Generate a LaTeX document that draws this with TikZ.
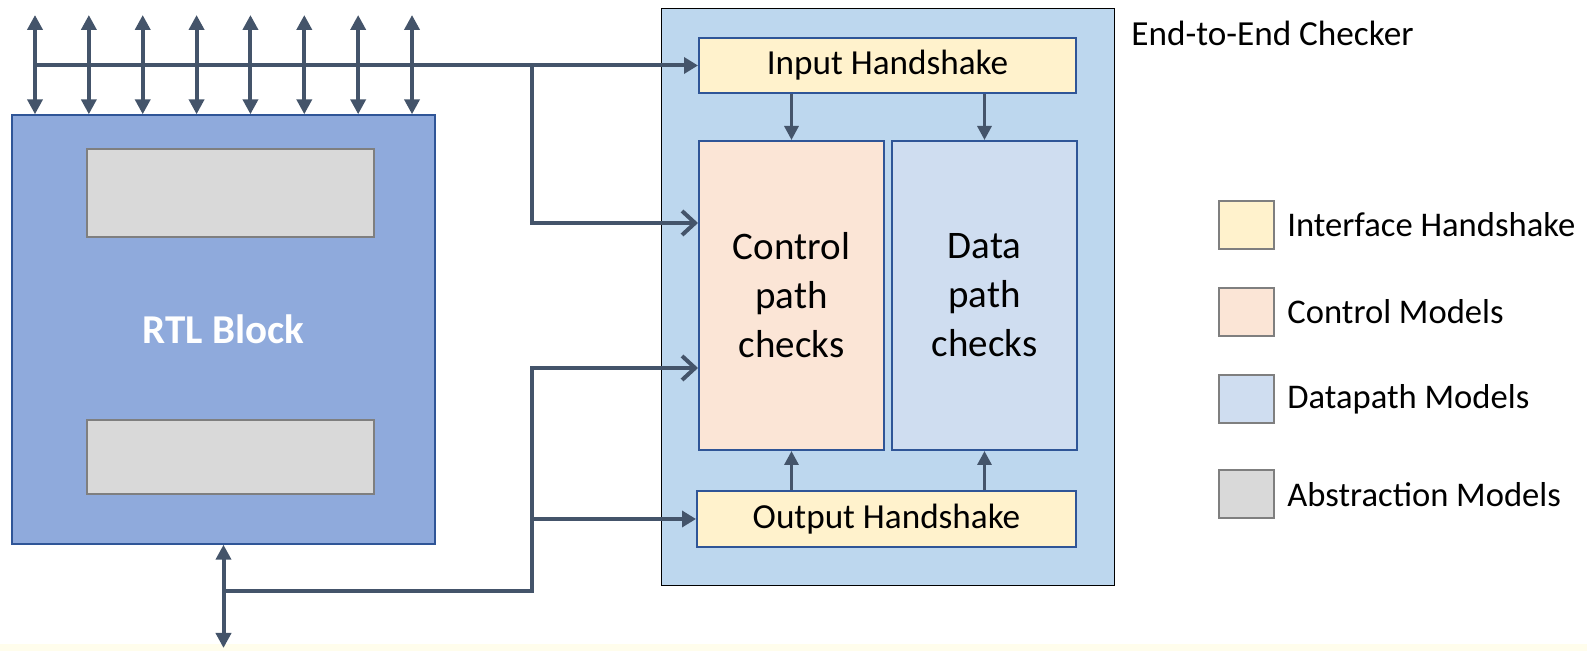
\documentclass[tikz,border=0pt]{standalone}
\usepackage{fontspec}
\setmainfont{Carlito}
\usepackage{tikz}
\usetikzlibrary{arrows.meta, positioning, calc}
\definecolor{rtlblue}{RGB}{143,170,220}
\definecolor{edge}{RGB}{47,85,151}
\definecolor{wire}{RGB}{68,84,106}
\definecolor{absgray}{RGB}{217,217,217}
\definecolor{framegray}{RGB}{127,127,127}
\definecolor{checkblue}{RGB}{189,215,238}
\definecolor{hsyellow}{RGB}{255,242,204}
\definecolor{ctrlpeach}{RGB}{251,229,214}
\definecolor{datablue}{RGB}{207,221,240}
\definecolor{stripyellow}{RGB}{255,253,236}
\tikzset{
    block/.style={rectangle, draw=edge, line width=0.7pt, fill=rtlblue, minimum width=211.5pt, minimum height=214.5pt, text=white, font=\fontsize{20.5}{24}\selectfont\bfseries},
    absmodel/.style={rectangle, draw=framegray, line width=1pt, fill=absgray, minimum width=143.5pt},
    checker/.style={rectangle, draw=black, line width=0.5pt, fill=checkblue, minimum width=226.5pt, minimum height=288.5pt},
    handshake/.style={rectangle, draw=edge, line width=1pt, fill=hsyellow, minimum width=188.5pt, minimum height=27.5pt, font=\fontsize{17.6}{20}\selectfont},
    pathbox/.style={rectangle, draw=edge, line width=1pt, minimum width=92.5pt, minimum height=154.5pt, align=center, font=\fontsize{19.5}{24.5}\selectfont},
    legendbox/.style={rectangle, draw=framegray, line width=1pt, minimum width=27.5pt, minimum height=24pt, inner sep=0pt},
    legendtext/.style={inner sep=0pt, anchor=west, font=\fontsize{17.3}{20}\selectfont},
    bus/.style={line width=2pt, draw=wire},
    flow/.style={bus, -{Triangle[length=7pt, width=8pt]}},
    openflow/.style={bus, -{Straight Barb[length=6.5pt, width=12pt]}},
    dflow/.style={bus, {Triangle[length=7.5pt, width=7.5pt]}-{Triangle[length=7.5pt, width=7.5pt]}},
    innerflow/.style={line width=1.6pt, draw=wire, -{Triangle[length=7pt, width=7pt]}}
}
\begin{document}
\begin{tikzpicture}[x=0.5pt, y=-0.5pt, node distance=6pt]
    % page frame and the pale strip along the bottom
    \useasboundingbox (0,0) rectangle (1587,651);
    \fill[stripyellow] (0,644) rectangle (1587,651);

    % RTL block with its two abstraction models
    \node[block] (rtl) at (223.5,329.5) {RTL Block};
    \node[absmodel, minimum height=44pt] (abs_top) at (230.5,193) {};
    \node[absmodel, minimum height=37pt] (abs_bot) at (230.5,457) {};

    % End-to-end checker
    \node[checker] (checker) at (887.5,297.5) {};
    \node[inner sep=0pt, anchor=west, font=\fontsize{17.6}{20}\selectfont] (checker_label) at (1131,33) {End-to-End Checker};
    \node[handshake] (in_hs) at (887.5,65.5) {Input Handshake};
    \node[handshake, minimum width=189.5pt, minimum height=28pt] (out_hs) at (886.5,519) {Output Handshake};
    \node[pathbox, fill=ctrlpeach] (ctrl) at (791.5,295.5) {Control\\path\\checks};
    \node[pathbox, fill=datablue] (data) at (984.5,295.5) {Data\\path\\checks};

    % handshakes feed the checks
    \draw[innerflow] (in_hs.south -| ctrl.north) -- (ctrl.north);
    \draw[innerflow] (in_hs.south -| data.north) -- (data.north);
    \draw[innerflow] (out_hs.north -| ctrl.south) -- (ctrl.south);
    \draw[innerflow] (out_hs.north -| data.south) -- (data.south);

    % pins on top of the RTL block
    \foreach \i in {0,...,7}
        \coordinate (pin\i) at (35+53.86*\i, 15);
    \foreach \i in {0,...,7}
        \draw[dflow] (pin\i) -- (pin\i |- rtl.north);

    % wiring junctions
    \coordinate (j_top) at (532,65.5);
    \coordinate (j_low) at (532,519);
    \coordinate (j_bot) at (223.5,591);
    \coordinate (pin_bot) at (223.5,648);

    % input side bus
    \draw[bus] (pin0 |- j_top) -- (j_top);
    \draw[flow] (j_top) -- (in_hs.west);
    \draw[openflow] (j_top) |- ($(ctrl.west)+(0,-72.5)$);

    % output side bus
    \draw[dflow] (rtl.south) -- (pin_bot);
    \draw[bus] (j_bot) -| (j_low);
    \draw[openflow] (j_low) |- ($(ctrl.west)+(0,72.5)$);
    \draw[flow] (j_low) -- (out_hs.west);

    % legend
    \node[legendbox, fill=hsyellow] (leg_hs) at (1246.5,225) {};
    \node[legendtext, right=of leg_hs] (leg_hs_txt) {Interface Handshake};
    \node[legendbox, fill=ctrlpeach] (leg_ctrl) at (1246.5,312) {};
    \node[legendtext, right=of leg_ctrl] (leg_ctrl_txt) {Control Models};
    \node[legendbox, fill=datablue] (leg_data) at (1246.5,399) {};
    \node[legendtext, right=of leg_data] (leg_data_txt) {Datapath Models};
    \node[legendbox, fill=absgray] (leg_abs) at (1246.5,494.5) {};
    \node[legendtext, right=of leg_abs] (leg_abs_txt) {Abstraction Models};
\end{tikzpicture}
\end{document}
